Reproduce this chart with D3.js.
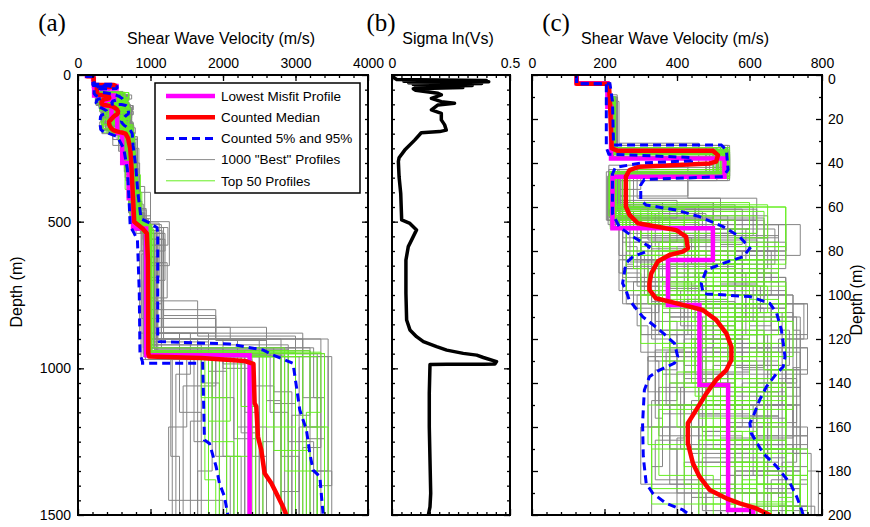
<!DOCTYPE html>
<html>
<head>
<meta charset="utf-8">
<title>Shear wave velocity profiles</title>
<script src="https://d3js.org/d3.v7.min.js"></script>
<style>
body { margin: 0; background: #fff; }
</style>
</head>
<body>
<script>

// ---- data: [velocity, depth] points ----
let medianPts = [[123,0],[123,4],[212,4],[215,12],[218,25],[220,33.3],[235,34.4],[499,34.4],[513,36.4],[508,39.4],[490,40.2],[296,41.7],[269,43.2],[259,46.2],[259,59.8],[269,63.6],[292,67.4],[342,68.9],[398,70.5],[425,73.5],[430,78.8],[416,80.3],[379,81.8],[347,84.8],[329,90.2],[324,94.7],[324,97.7],[342,101.5],[416,104.5],[471,106.8],[508,111.3],[536,117.4],[550,123.5],[550,129.5],[536,134.1],[508,138.6],[481,144.7],[453,152.2],[430,158.3],[430,167.4],[444,176.5],[462,182.6],[490,188.6],[536,192.4],[573,194.7],[619,197],[656,200],[690,215],[720,250],[735,300],[755,400],[775,500],[890,523],[950,540],[965,630],[970,950],[982,960],[1700,965],[2300,975],[2420,985],[2436,1119],[2459,1130],[2482,1233],[2528,1278],[2574,1358],[2667,1392],[2736,1426],[2828,1472],[2874,1500]];

let p05Pts = [[123,0],[123,4],[205,4],[205,33],[212,36],[440,37.5],[440,39],[300,40],[230,42],[222,45],[222,63],[241,69],[278,73.5],[324,78],[315,80.3],[278,82.6],[259,85.6],[250,94.7],[259,97.7],[268,102.2],[305,109.8],[352,115.9],[393,122],[402,128],[393,131],[352,134.1],[324,137.1],[310,143.2],[305,158.3],[307,173.5],[315,185.6],[333,190.1],[370,194.7],[416,197.7],[435,200],[540,210],[630,250],[680,320],[705,430],[720,515],[775,540],[820,563],[845,740],[855,950],[890,978],[890,983],[1720,983],[1744,1244],[1813,1256],[1905,1335],[1951,1392],[2020,1437],[2067,1500]];

let p95Pts = [[123,0],[123,4],[215,4],[222,12],[225,31.8],[522,31.8],[536,34],[541,43],[527,46.2],[310,47.5],[300,50],[300,57],[315,59.1],[398,61.4],[462,64.4],[527,68.9],[573,73.5],[601,78.8],[582,82.6],[527,85.6],[481,88.6],[467,94.7],[472,99.2],[481,99.5],[601,100.7],[656,103.8],[675,108.3],[688,115.9],[698,128],[693,132.6],[675,135.6],[647,141.6],[628,147.7],[610,155.3],[601,158.3],[605,162.9],[638,172],[675,178],[712,185.6],[730,191.6],[744,197.7],[748,200],[760,240],[800,320],[825,400],[870,490],[990,505],[1090,520],[1100,540],[1100,892],[1121,909],[2090,917],[2551,937.5],[2690,955],[2966,983],[3013,1063],[3059,1142],[3151,1210],[3197,1290],[3243,1347],[3336,1369],[3359,1437],[3382,1500]];

// layered profiles: velocity, bottom depth, velocity, bottom depth, ...
let lowestMisfit = [123,3.8,208,14.4,218,37.9,531,46.2,222,69.7,499,84.1,375,104.5,462,140.9,541,197.7,610,300,700,420,760,523,940,955,2367,1500];

let grayProfiles = [
  [123,4,208,12,222,33,530,46,212,63,420,79,330,103,560,128,470,162,520,205,640,330,760,505,950,940,2300,1500],
  [123,4,212,10,230,35,545,47,230,58,500,72,600,86,380,106,640,133,560,170,700,210,720,380,820,520,1000,920,2900,1500],
  [123,4,206,14,218,36,480,44,205,66,300,88,260,104,420,125,340,150,380,186,560,230,700,420,800,530,900,960,1900,1300,2100,1500],
  [123,4,214,9,235,32,540,42,290,56,620,74,680,90,560,110,730,140,690,178,760,215,820,400,1000,560,1100,880,3100,1200,3400,1500],
  [123,4,210,11,225,37,510,48,250,60,360,78,450,92,300,118,400,148,330,190,480,240,650,350,780,520,870,970,1600,1250,1800,1500],
  [123,4,208,13,228,34,525,45,215,61,580,77,520,95,620,118,540,150,610,182,720,230,780,440,900,560,1050,860,2600,1110,2800,1500],
  [123,4,211,12,240,31,460,40,430,56,520,70,250,92,480,108,500,142,740,170,650,200,700,320,760,500,1260,650,960,900,2500,1500],
  [123,4,209,10,220,36,535,47,210,68,680,84,400,100,700,112,600,135,420,168,760,196,700,260,740,470,870,530,990,950,3300,1500],
  [123,4,213,11,232,33,500,43,240,62,270,85,340,100,600,120,450,136,560,160,460,200,600,300,720,490,950,610,880,830,1900,905,2200,1500],
  [123,4,207,12,219,38,545,46,222,64,650,80,580,98,330,116,700,140,620,165,520,198,680,270,800,505,1120,690,1000,930,3000,1120,2700,1500],
  [123,4,210,10,226,35,515,44,300,52,240,70,560,88,430,104,480,126,370,150,720,190,600,240,700,380,830,520,940,960,1500,1200,1250,1450,2000,1500],
  [123,4,212,13,224,34,530,47,260,59,460,72,380,90,590,110,560,138,460,155,680,180,560,210,760,420,860,540,1180,820,1900,900,2800,1500],
  [123,4,208,11,221,36,540,45,215,60,320,75,620,94,520,104,340,130,420,165,400,200,620,290,700,470,880,540,930,970,2400,1300,2600,1500],
  [123,4,209,12,233,33,480,47,210,66,540,82,310,100,520,110,740,133,720,165,600,196,780,250,840,500,960,530,1080,900,3450,1500],
  [123,4,211,10,223,37,525,46,430,55,240,68,700,80,640,96,440,120,580,150,650,172,770,200,690,300,800,510,1010,950,2000,1000,2350,1500],
  [123,4,210,14,225,32,545,44,235,57,400,65,260,87,560,100,360,122,660,158,540,190,480,220,640,330,790,500,970,945,1700,1180,1550,1500],
  [123,4,207,11,230,35,510,46,280,60,610,73,500,88,250,104,620,112,500,128,320,160,700,188,740,300,720,450,850,520,980,770,1650,890,3000,1500],
  [123,4,212,12,218,36,535,47,225,61,500,76,350,92,460,106,580,130,680,155,600,180,740,205,760,380,920,530,1060,940,3200,1350,3500,1500],
  [123,4,209,10,236,34,540,44,240,64,300,80,540,90,450,112,620,142,410,170,600,200,660,240,740,480,900,560,1000,955,2250,1220,2450,1500],
  [123,4,213,12,222,33,500,41,212,60,450,70,670,86,600,100,380,110,470,150,730,176,690,200,700,360,810,515,900,930,2700,1080,2950,1500],
  [123,4,210,12,229,36,520,45,218,67,260,78,290,96,350,108,300,126,560,140,380,170,700,200,640,260,720,490,1000,540,1200,600,850,880,1400,960,1300,1500],
  [123,4,208,11,227,33,538,46,226,58,360,66,620,78,700,88,580,104,760,118,640,150,520,172,760,200,720,350,800,500,940,620,1100,900,3350,1270,3100,1500],
  [123,4,211,13,220,35,490,46,240,63,480,74,430,94,280,106,330,120,380,150,580,160,440,192,540,220,660,340,780,510,960,950,1850,1100,2150,1500],
  [123,4,209,10,234,34,530,45,212,62,600,70,590,84,320,100,580,108,690,126,540,144,680,160,620,186,720,210,780,430,880,510,1150,780,1050,935,2900,1250,3250,1500],
  [123,4,210,12,226,34,520,44,228,60,380,70,520,80,620,92,700,106,600,124,660,150,720,178,680,200,760,300,820,480,1000,560,1200,700,1040,910,1800,1010,2050,1500],
  [123,4,209,11,231,36,545,47,214,65,290,74,440,86,520,98,410,114,520,136,360,154,600,176,420,200,600,260,700,440,860,530,960,950,2600,1200,2350,1500],
  [123,4,212,10,222,33,510,45,240,59,560,68,740,82,600,100,520,118,640,132,560,150,520,170,760,198,680,230,760,470,920,520,1240,580,980,960,3450,1350,3200,1500],
  [123,4,208,13,228,35,530,46,219,62,470,69,300,84,360,98,700,104,660,124,480,142,350,164,580,190,700,210,740,410,820,515,1010,945,1400,1150,1700,1500],
  [123,4,211,11,235,34,500,45,228,66,620,72,480,90,540,102,420,118,700,136,600,164,760,186,700,210,820,300,850,490,970,530,1160,860,2100,905,2600,1500],
  [123,4,207,12,224,37,540,48,232,63,340,78,600,86,380,97,460,118,620,126,740,150,660,170,560,190,620,205,660,360,760,505,880,600,940,960,3050,1420,2800,1500],
  [123,4,213,12,230,35,525,44,250,58,500,66,560,76,300,88,640,104,580,120,420,138,480,150,560,168,640,188,740,200,720,300,780,455,940,530,1080,960,2150,1240,2450,1500],
  [123,4,210,10,218,34,535,46,223,61,620,82,540,94,680,108,720,140,580,156,700,174,470,198,620,240,700,390,860,515,1000,920,1700,1050,1950,1500],
  [123,4,209,13,227,36,545,46,216,69,400,76,330,94,440,104,520,114,560,132,700,150,620,172,680,196,700,220,800,480,920,560,1150,930,3250,1100,3400,1500],
  [123,4,212,11,225,33,505,45,260,55,240,66,640,84,620,96,480,110,380,124,760,136,700,160,740,180,560,200,680,320,780,490,900,540,990,955,2800,1300,3050,1500],
  [123,4,208,10,221,35,520,43,212,64,540,72,380,84,520,96,610,112,540,128,420,150,640,160,520,182,760,200,700,280,740,500,960,620,1060,880,1550,1020,1350,1500],
  [123,4,211,12,233,35,535,47,224,62,280,70,600,76,700,84,640,104,500,112,580,134,740,146,560,166,700,190,640,205,740,400,840,520,1080,945,2300,1150,2500,1500],
  [123,4,210,11,226,34,540,44,238,60,520,70,250,84,420,100,340,116,460,130,540,148,440,172,600,198,660,330,720,470,890,520,1020,960,3300,1200,3050,1500],
  [123,4,209,12,222,36,515,46,218,65,640,74,560,92,350,104,660,116,710,132,620,164,680,182,540,200,700,250,800,510,900,580,1000,930,2000,1300,2250,1500],
  [123,4,212,13,229,33,540,45,245,61,450,80,500,90,660,100,590,118,650,138,520,154,460,176,680,196,740,230,790,470,900,540,960,950,2650,1150,2900,1500],
  [123,4,208,11,223,37,525,47,225,63,300,73,680,80,580,100,720,112,500,126,600,144,700,168,620,190,600,220,680,420,800,520,1100,700,900,950,1900,1060,1650,1500],
  [123,4,210,12,224,35,525,46,208,66,250,76,320,92,700,104,760,120,680,138,720,160,760,180,790,200,720,300,800,500,1000,580,1150,880,1800,960,3500,1400,3300,1500],
  [123,4,211,11,226,34,540,45,214,58,230,70,280,86,260,100,340,112,400,134,340,156,360,178,330,200,560,260,700,470,800,540,950,900,1650,1060,1450,1500],
  [123,4,209,12,228,36,530,47,220,62,250,74,650,88,620,100,720,116,740,142,700,158,650,180,700,200,740,340,850,505,1000,640,1230,760,980,940,2700,1250,2550,1500],
  [123,4,212,13,223,33,520,44,226,67,300,80,260,94,320,104,350,118,420,132,460,150,380,170,400,190,600,210,680,420,760,510,920,960,2500,1200,2200,1500],
  [123,4,208,10,227,35,545,46,230,59,270,72,560,80,620,90,460,104,750,120,690,150,740,172,680,196,760,220,820,460,940,540,1050,900,3100,1100,3350,1500],
  [123,4,213,11,222,36,500,45,212,63,230,70,240,90,300,100,290,114,320,130,350,150,420,166,340,184,520,200,640,300,760,500,860,530,940,960,1280,1300,1400,1500],
  [123,4,210,13,231,34,535,47,216,60,600,68,700,80,560,96,630,108,560,122,700,138,730,158,600,178,700,198,700,250,780,480,900,520,1180,900,2000,985,2300,1500],
  [123,4,207,11,225,35,515,45,245,64,280,76,360,84,240,98,360,108,460,128,320,144,480,160,300,186,440,200,580,260,700,440,860,530,1000,960,2350,1060,2700,1500],
  [123,4,211,12,220,34,540,46,222,65,500,80,660,94,700,106,620,124,760,134,650,150,700,164,760,184,740,200,760,320,840,500,1000,560,1180,640,1000,930,3200,1160,2950,1500],
  [123,4,209,10,232,36,525,44,218,57,260,68,420,76,330,88,380,100,300,118,560,132,500,146,560,162,480,188,620,200,700,380,820,520,980,945,1850,1350,1650,1500],
  [123,4,212,12,226,33,510,43,236,62,350,70,460,84,300,96,520,104,660,114,600,136,520,150,600,172,560,200,700,300,800,520,920,800,1900,880,1100,955,2850,1500],
  [123,4,208,11,221,37,545,48,214,64,240,82,540,88,480,102,430,118,380,126,520,150,460,168,720,184,660,200,700,330,760,490,880,540,970,950,3400,1240,3150,1500]
];

let greenProfiles = [
  [123,4,210,11,224,35,530,46,220,66,560,80,450,95,360,106,620,128,560,160,470,195,700,240,740,430,860,520,980,955,2400,1500],
  [123,4,208,12,222,36,540,47,230,62,640,84,350,102,540,120,600,150,420,178,720,198,700,300,780,505,960,950,3400,1500],
  [123,4,211,10,228,34,520,45,250,70,280,88,320,104,480,124,360,160,330,195,560,230,650,390,760,525,930,960,1750,1380,1900,1500],
  [123,4,209,13,226,33,545,44,215,60,700,78,620,92,500,110,700,134,660,170,760,200,780,330,820,515,1000,945,3000,1500],
  [123,4,212,11,220,37,510,47,240,68,420,86,300,100,580,116,520,142,640,170,600,200,720,260,790,500,970,960,2700,1280,2900,1500],
  [123,4,207,12,230,35,535,46,212,64,500,75,380,96,650,108,450,135,400,160,520,190,660,215,720,400,880,535,990,955,2200,1500],
  [123,4,210,10,225,33,525,43,270,58,600,86,520,100,300,122,560,148,700,180,640,200,760,300,800,510,1020,940,3200,1200,3450,1500],
  [123,4,211,12,221,36,540,45,225,63,360,80,460,96,700,112,380,140,480,166,700,196,600,240,700,460,840,520,960,960,2550,1500],
  [123,4,208,11,227,34,500,46,232,59,650,74,560,88,400,104,540,130,600,152,350,182,500,200,640,320,760,510,950,955,1700,1100,2050,1500],
  [123,4,210,13,223,35,530,47,216,70,450,84,600,98,480,118,660,138,520,162,580,186,740,200,740,380,830,525,1040,930,2850,1350,3100,1500],
  [123,4,209,12,225,34,535,45,230,61,300,72,520,84,680,94,420,105,360,130,620,146,700,170,330,188,620,200,680,300,780,515,1000,950,2100,1180,1800,1500],
  [123,4,212,11,226,36,525,46,222,65,380,82,260,98,600,112,720,128,450,146,500,170,560,200,690,280,760,505,990,960,3300,1500],
  [123,4,210,12,227,35,530,46,218,64,620,72,560,86,430,98,520,110,600,126,680,144,560,162,620,186,700,200,740,320,800,520,1000,955,2600,1200,2800,1500],
  [123,4,209,11,224,34,545,47,225,62,330,76,500,90,620,104,560,120,440,140,560,156,660,176,540,198,660,260,740,480,860,530,990,950,1850,1250,2150,1500],
  [123,4,211,13,221,36,520,45,230,66,520,76,680,88,540,100,380,116,640,134,720,152,600,172,720,192,680,220,720,400,830,520,960,960,3100,1350,3300,1500],
  [123,4,208,10,229,33,535,44,214,61,420,70,300,82,560,94,700,108,520,122,420,142,700,158,620,184,580,200,700,300,780,510,940,955,2250,1130,2450,1500],
  [123,4,212,12,223,35,510,46,240,60,700,86,500,100,460,114,560,128,480,148,640,166,460,186,700,200,720,350,820,525,1010,940,2900,1280,3200,1500],
  [123,4,210,11,226,36,540,47,222,67,460,80,340,92,600,102,680,118,560,138,600,150,520,170,740,196,700,240,760,430,860,515,980,960,1950,1500],
  [123,4,211,11,225,35,525,46,220,66,300,78,400,90,540,104,620,118,520,134,460,156,560,176,620,194,720,210,740,420,820,520,1000,950,2050,1300,2350,1500],
  [123,4,209,12,222,34,540,45,226,62,560,78,680,90,460,104,700,122,600,140,700,160,640,182,760,200,760,340,860,530,990,960,2800,1200,3000,1500],
  [123,4,210,13,228,36,515,47,232,64,260,80,480,94,360,104,560,124,500,150,320,168,420,186,460,200,620,280,720,500,900,540,980,955,1800,1500],
  [123,4,212,10,224,33,535,44,218,60,600,70,540,84,640,100,440,112,700,128,560,146,480,166,640,190,700,210,780,450,860,520,1010,945,3350,1150,3150,1500]
];

// sigma ln(Vs) vs depth: [sigma, depth]
let sigmaPts = [[0,0],[0.01,10],[0.02,15],[0.40,19],[0.05,21],[0.41,23],[0.07,26],[0.38,29],[0.09,32],[0.34,36],[0.10,39],[0.30,43],[0.09,47],[0.10,52],[0.195,62.5],[0.209,68],[0.167,79.5],[0.209,91],[0.265,96.6],[0.195,102],[0.167,119],[0.209,131],[0.209,153],[0.223,170],[0.23,188],[0.202,193],[0.124,197],[0.096,222],[0.054,256],[0.03,282],[0.027,295],[0.030,347],[0.037,404],[0.041,494],[0.076,506],[0.104,528],[0.09,551],[0.069,585],[0.059,631],[0.059,744],[0.062,835],[0.076,869],[0.104,892],[0.133,909],[0.189,926],[0.232,938],[0.302,949],[0.359,955],[0.387,963],[0.443,977],[0.436,985],[0.387,986],[0.232,986],[0.161,987],[0.158,1085],[0.158,1199],[0.161,1313],[0.164,1426],[0.161,1472],[0.154,1500]];

let legendItems = [
  {label: "Lowest Misfit Profile", color: "#ff00ff", width: 4.5, dash: null},
  {label: "Counted Median", color: "#ff0000", width: 4.5, dash: null},
  {label: "Counted 5% and 95%", color: "#0000ff", width: 3, dash: "8,5"},
  {label: "1000 \"Best\" Profiles", color: "#8c8c8c", width: 1, dash: null},
  {label: "Top 50 Profiles", color: "#66ee22", width: 1, dash: null}
];

// ---- drawing ----
let sans = "'Liberation Sans', Arial, sans-serif";
let serif = "'Liberation Serif', 'Times New Roman', serif";

let svg = d3.select("body").append("svg")
    .attr("width", 870)
    .attr("height", 527)

let yTop = 75, yBottom = 515;

let xA = d3.scaleLinear().domain([0, 4000]).range([78, 368]);
let yA = d3.scaleLinear().domain([0, 1500]).range([yTop, yBottom]);
let xB = d3.scaleLinear().domain([0, 0.5]).range([392, 510]);
let xC = d3.scaleLinear().domain([0, 800]).range([532, 822]);
let yC = d3.scaleLinear().domain([0, 200]).range([yTop, yBottom]);

function stepPoints(p) {
    let pts = [], prev = 0;
    for (let i = 0; i < p.length; i += 2) {
        pts.push([p[i], prev]);
        pts.push([p[i], p[i + 1]]);
        prev = p[i + 1];
    }
    return pts;
}

let defs = svg.append("defs");
function clip(id, x, y) {
    defs.append("clipPath").attr("id", id)
        .append("rect")
        .attr("x", x.range()[0]).attr("y", y.range()[0])
        .attr("width", x.range()[1] - x.range()[0])
        .attr("height", y.range()[1] - y.range()[0]);
}
clip("clipA", xA, yA);
clip("clipB", xB, yA);
clip("clipC", xC, yC);

function drawVelocityPanel(x, y, clipId) {
    let line = d3.line().x(d => x(d[0])).y(d => y(d[1]));
    let g = svg.append("g").attr("clip-path", `url(#${clipId})`).attr("fill", "none");

    g.append("g").selectAll("path").data(grayProfiles).join("path")
        .attr("d", p => line(stepPoints(p)))
        .attr("stroke", "#858585").attr("stroke-width", 1);

    g.append("g").selectAll("path").data(greenProfiles).join("path")
        .attr("d", p => line(stepPoints(p)))
        .attr("stroke", "#66ee22").attr("stroke-width", 1);

    g.append("path").attr("d", line(stepPoints(lowestMisfit)))
        .attr("stroke", "#ff00ff").attr("stroke-width", 4.5);

    g.append("path").attr("d", line(medianPts))
        .attr("stroke", "#ff0000").attr("stroke-width", 4.5).attr("stroke-linejoin", "round");

    [p05Pts, p95Pts].forEach(pts => {
        g.append("path").attr("d", line(pts))
            .attr("stroke", "#0000ff").attr("stroke-width", 3)
            .attr("stroke-dasharray", "8,5");
    });
}

drawVelocityPanel(xA, yA, "clipA");
drawVelocityPanel(xC, yC, "clipC");

svg.append("path")
    .attr("clip-path", "url(#clipB)")
    .attr("d", d3.line().x(d => xB(d[0])).y(d => yA(d[1]))(sigmaPts))
    .attr("fill", "none").attr("stroke", "#000").attr("stroke-width", 3.5)
    .attr("stroke-linejoin", "round");

// axes: inward ticks on all four sides
function styleAxis(g) {
    g.select(".domain").remove();
    g.selectAll("line").attr("stroke", "#000").attr("stroke-width", 1.3);
    g.selectAll("text").attr("font-family", sans).attr("font-size", 14).attr("fill", "#000");
}

function frame(x, y, o) {
    let x0 = x.range()[0], x1 = x.range()[1];
    svg.append("g").attr("transform", `translate(0,${yTop})`)
        .call(d3.axisTop(x).tickValues(o.xMinor).tickSize(-3).tickFormat("")).call(styleAxis);
    svg.append("g").attr("transform", `translate(0,${yBottom})`)
        .call(d3.axisBottom(x).tickValues(o.xMinor).tickSize(-3).tickFormat("")).call(styleAxis);
    svg.append("g").attr("transform", `translate(0,${yTop})`)
        .call(d3.axisTop(x).tickValues(o.xMajor).tickSize(-6).tickPadding(7).tickFormat(o.xFmt)).call(styleAxis);
    svg.append("g").attr("transform", `translate(0,${yBottom})`)
        .call(d3.axisBottom(x).tickValues(o.xMajor).tickSize(-6).tickFormat("")).call(styleAxis);

    svg.append("g").attr("transform", `translate(${x0},0)`)
        .call(d3.axisLeft(y).tickValues(o.yMinor).tickSize(-3).tickFormat("")).call(styleAxis);
    svg.append("g").attr("transform", `translate(${x1},0)`)
        .call(d3.axisRight(y).tickValues(o.yMinor).tickSize(-3).tickFormat("")).call(styleAxis);
    svg.append("g").attr("transform", `translate(${x0},0)`)
        .call(d3.axisLeft(y).tickValues(o.yMajor).tickSize(-6).tickPadding(7)
            .tickFormat(o.leftLabels ? d3.format("d") : "")).call(styleAxis);
    let right = svg.append("g").attr("transform", `translate(${x1},0)`)
        .call(d3.axisRight(y).tickValues(o.yMajor).tickSize(-6).tickPadding(6)
            .tickFormat(o.rightLabels ? d3.format("d") : "")).call(styleAxis);
    // the top-right "0" sits just under the last top label, as in the original
    right.selectAll("text").filter(d => d === 0).attr("dy", "0.62em");

    svg.append("rect")
        .attr("x", x0).attr("y", yTop)
        .attr("width", x1 - x0).attr("height", yBottom - yTop)
        .attr("fill", "none").attr("stroke", "#000").attr("stroke-width", 2);
}

frame(xA, yA, {
    xMajor: d3.range(0, 4001, 1000), xMinor: d3.range(200, 4000, 200), xFmt: d3.format("d"),
    yMajor: d3.range(0, 1501, 500), yMinor: d3.range(50, 1500, 50), leftLabels: true
});
frame(xB, yA, {
    xMajor: [0, 0.5], xMinor: d3.range(1, 13).map(i => i * 0.04), xFmt: d => d === 0 ? "0" : "0.5",
    yMajor: d3.range(0, 1501, 500), yMinor: d3.range(50, 1500, 50)
});
frame(xC, yC, {
    xMajor: d3.range(0, 801, 200), xMinor: d3.range(40, 800, 40), xFmt: d3.format("d"),
    yMajor: d3.range(0, 201, 20), yMinor: d3.range(10, 200, 20), rightLabels: true
});

// legend
let lg = svg.append("g");
lg.append("rect").attr("x", 155).attr("y", 83).attr("width", 205).attr("height", 110)
    .attr("fill", "#fff").attr("stroke", "#000").attr("stroke-width", 1.5);
legendItems.forEach((d, i) => {
    let yy = 96 + i * 21.2;
    lg.append("line").attr("x1", 166).attr("x2", 215).attr("y1", yy).attr("y2", yy)
        .attr("stroke", d.color).attr("stroke-width", d.width)
        .attr("stroke-dasharray", d.dash);
    lg.append("text").attr("x", 221).attr("y", yy).attr("dy", "0.35em")
        .attr("font-family", sans).attr("font-size", 13.5).text(d.label);
});

// titles and labels
function label(txt, x, y, size, family, rotate) {
    let t = svg.append("text").attr("font-family", family).attr("font-size", size)
        .attr("text-anchor", "middle").text(txt);
    if (rotate) t.attr("transform", `translate(${x},${y}) rotate(-90)`);
    else t.attr("x", x).attr("y", y);
}
label("Shear Wave Velocity (m/s)", 221, 44, 16, sans);
label("Sigma ln(Vs)", 448, 44, 16, sans);
label("Shear Wave Velocity (m/s)", 675, 44, 16, sans);
label("Depth (m)", 22, 292, 16, sans, true);
label("Depth (m)", 862, 300, 16, sans, true);
label("(a)", 52, 31, 25, serif);
label("(b)", 381, 31, 25, serif);
label("(c)", 556, 31, 25, serif);

</script>
</body>
</html>
